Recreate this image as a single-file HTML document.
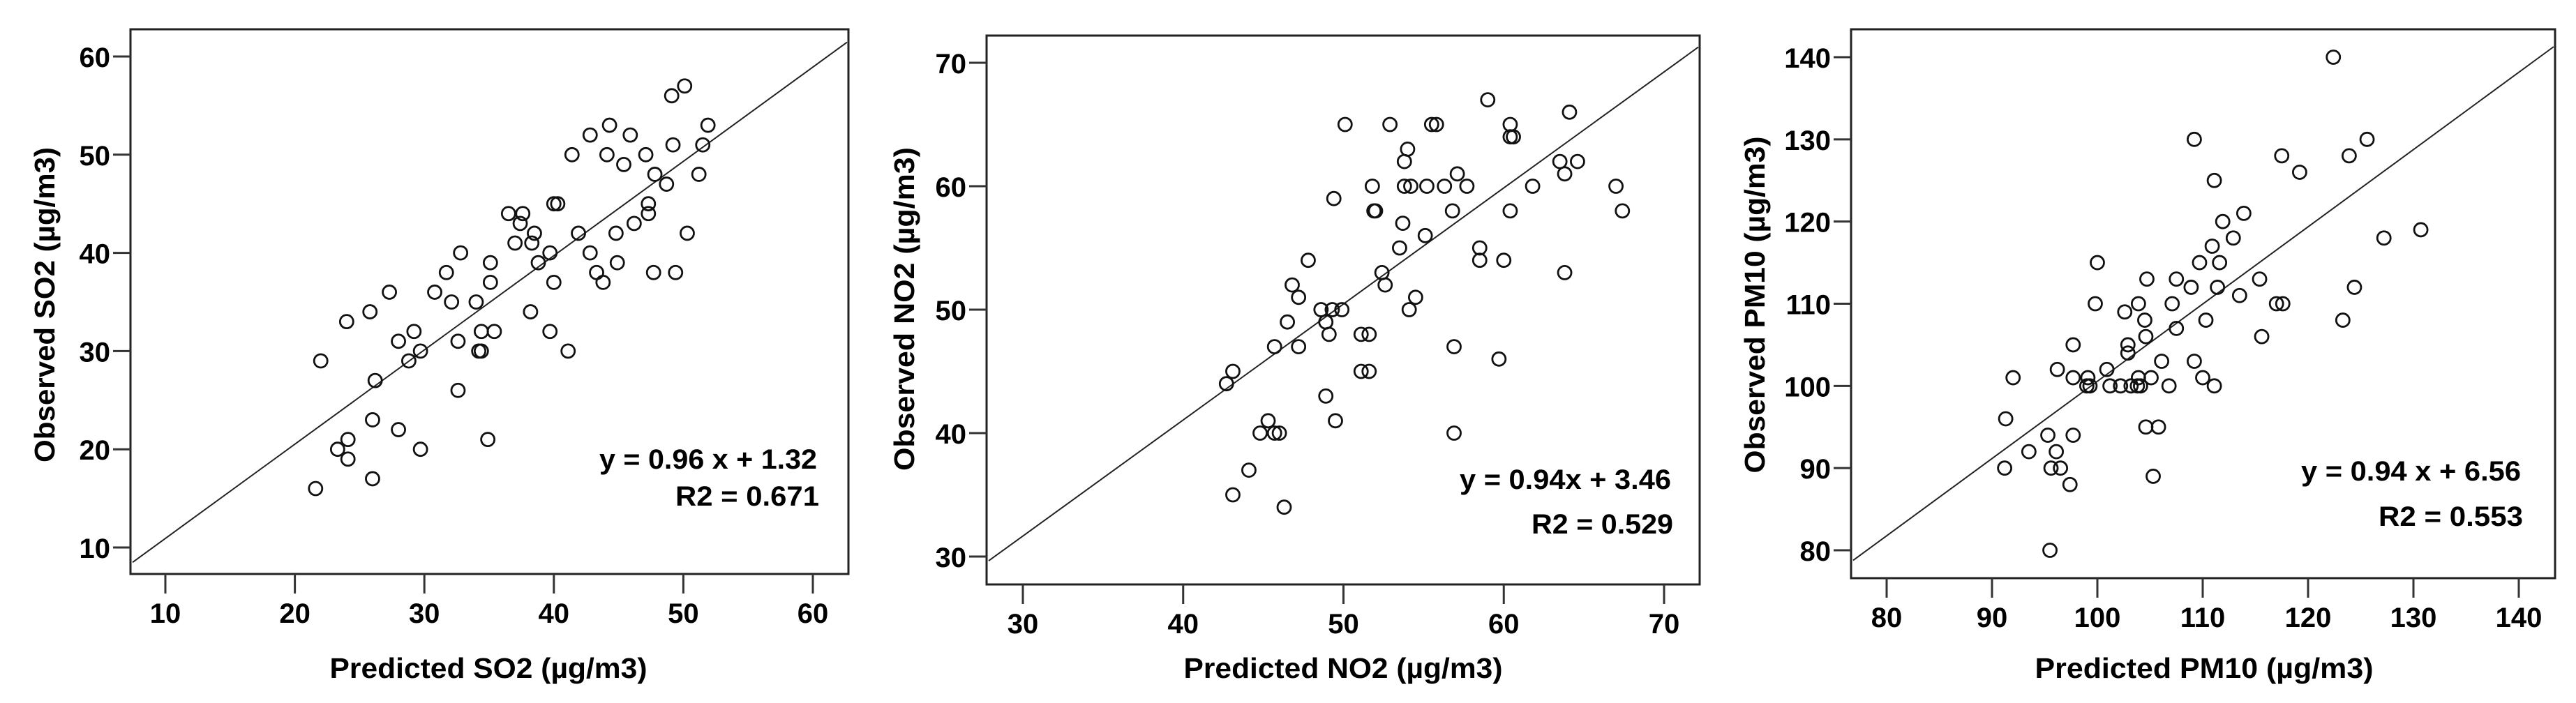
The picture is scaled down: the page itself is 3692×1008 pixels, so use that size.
<!DOCTYPE html>
<html><head><meta charset="utf-8"><style>
html,body{margin:0;padding:0;background:#fff;}
svg{display:block;font-family:"Liberation Sans",Arial,sans-serif;font-weight:bold;}
</style></head><body>
<svg id="chart" width="3692" height="1008" viewBox="0 0 3692 1008" xmlns="http://www.w3.org/2000/svg">
<rect width="3692" height="1008" fill="#fff"/>
</svg>
<script>
// ---- Panel data ----
const so2Pred = [21.6,22.0,23.3,24.0,24.1,24.1,25.8,26.0,26.0,26.2,27.3,28.0,28.0,28.8,29.2,29.7,29.7,30.8,31.7,32.1,32.6,32.6,32.8,34.0,34.2,34.4,34.4,34.9,35.1,35.1,35.4,36.5,37.0,37.4,37.6,38.3,38.5,38.2,38.8,39.7,40.0,39.7,40.0,40.3,41.1,41.4,41.9,42.8,42.8,43.3,43.8,44.1,44.3,44.8,44.9,45.4,45.9,46.2,47.1,47.3,47.3,47.7,47.8,48.7,49.1,49.2,49.4,50.1,50.3,51.2,51.5,51.9];
const so2Obs  = [16,29,20,33,21,19,34,23,17,27,36,31,22,29,32,30,20,36,38,35,31,26,40,35,30,30,32,21,37,39,32,44,41,43,44,41,42,34,39,40,37,32,45,45,30,50,42,52,40,38,37,50,53,42,39,49,52,43,50,45,44,38,48,47,56,51,38,57,42,48,51,53];
const no2Pred = [42.7,43.1,43.1,44.1,44.8,45.3,45.7,46.0,45.7,46.3,46.5,46.8,47.2,47.2,47.8,48.6,48.9,49.1,48.9,49.3,49.4,49.5,49.9,50.1,51.1,51.1,51.6,51.6,51.8,51.9,52.0,52.4,52.6,52.9,53.5,53.7,53.8,54.0,53.8,54.2,54.1,54.5,55.1,55.2,55.5,55.8,56.3,56.8,56.9,56.9,57.1,57.7,58.5,58.5,59.0,59.7,60.0,60.4,60.4,60.6,60.4,61.8,63.5,63.8,63.8,64.1,64.6,67.0,67.4];
const no2Obs  = [44,45,35,37,40,41,40,40,47,34,49,52,47,51,54,50,49,48,43,50,59,41,50,65,48,45,48,45,60,58,58,53,52,65,55,57,62,63,60,60,50,51,56,60,65,65,60,58,47,40,61,60,55,54,67,46,54,64,65,64,58,60,62,61,53,66,62,60,58];
const pmPred  = [91.2,91.3,92.0,93.5,95.3,95.5,95.6,96.1,96.2,96.5,97.4,97.7,97.7,97.7,99.1,99.0,99.3,99.8,100.0,100.9,101.2,102.2,102.6,102.9,102.9,103.2,103.8,103.9,103.9,104.1,104.5,104.6,104.6,104.7,105.1,105.3,105.8,106.1,106.8,107.1,107.5,107.5,108.9,109.2,109.2,109.7,110.0,110.3,110.9,111.1,111.1,111.4,111.6,111.9,112.9,113.5,113.9,115.4,115.6,117.0,117.6,117.5,119.2,122.4,123.3,123.9,124.4,125.6,127.2,130.7];
const pmObs   = [90,96,101,92,94,80,90,92,102,90,88,101,105,94,101,100,100,110,115,102,100,100,109,105,104,100,100,110,101,100,108,106,95,113,101,89,95,103,100,110,107,113,112,103,130,115,101,108,117,100,125,112,115,120,118,111,121,113,106,110,110,128,126,140,108,128,112,130,118,119];
const so2Ticks = [10,20,30,40,50,60];
const no2Ticks = [30,40,50,60,70];
const pmTicks  = [80,90,100,110,120,130,140];
const slopes = [0.96,0.94,0.94];
const intercepts = [1.32,3.46,6.56];
const eqLabels = ["y = 0.96 x + 1.32","y = 0.94x + 3.46","y = 0.94 x + 6.56"];
const r2Labels = ["R2 = 0.671","R2 = 0.529","R2 = 0.553"];
const xTitles = ["Predicted SO2 (µg/m3)","Predicted NO2 (µg/m3)","Predicted PM10 (µg/m3)"];
const yTitles = ["Observed SO2 (µg/m3)","Observed NO2 (µg/m3)","Observed PM10 (µg/m3)"];

const NS="http://www.w3.org/2000/svg";
const svg=document.getElementById('chart');
function mk(tag,attrs,parent){const e=document.createElementNS(NS,tag);for(const k in attrs)e.setAttribute(k,attrs[k]);(parent||svg).appendChild(e);return e;}

// layout (pixel geometry only)
const panels=[
 {key:'so2',px:so2Pred,py:so2Obs,ticks:so2Ticks,L:187,R:1216,T:42,B:823,
  xa:[10,237,60,1165],ya:[10,785,60,81],eqR:1171,eqY:672,r2Y:725,eqW:312,r2W:206,xtC:700,xtW:455,ytX:63,ytC:437,ytW:452},
 {key:'no2',px:no2Pred,py:no2Obs,ticks:no2Ticks,L:1414,R:2436,T:51,B:838,
  xa:[30,1466,70,2385],ya:[30,798,70,90],eqR:2395,eqY:701,r2Y:765,eqW:303,r2W:203,xtC:1925,xtW:457,ytX:1295,ytC:443,ytW:464},
 {key:'pm10',px:pmPred,py:pmObs,ticks:pmTicks,L:2653,R:3662,T:42,B:829,
  xa:[80,2704,140,3610],ya:[80,789,140,82],eqR:3613,eqY:689,r2Y:754,eqW:315,r2W:207,xtC:3159,xtW:485,ytX:2514,ytC:437,ytW:483}
];

panels.forEach((p,i)=>{
  const g=mk('g',{});
  
  
  const sx=v=>p.xa[1]+(v-p.xa[0])*(p.xa[3]-p.xa[1])/(p.xa[2]-p.xa[0]);
  const sy=v=>p.ya[1]+(v-p.ya[0])*(p.ya[3]-p.ya[1])/(p.ya[2]-p.ya[0]);
  const inv=x=>p.xa[0]+(x-p.xa[1])*(p.xa[2]-p.xa[0])/(p.xa[3]-p.xa[1]);
  // frame
  const fr=mk('rect',{x:p.L,y:p.T,width:p.R-p.L,height:p.B-p.T,fill:'none',stroke:'#222','stroke-width':3},g);
  
  
  // ticks
  p.ticks.forEach(t=>{
    const X=sx(t);
    const tl=mk('line',{x1:X,y1:p.B,x2:X,y2:p.B+28,stroke:'#333','stroke-width':3},g);
    
    
    const tx=mk('text',{x:X,y:p.B+70,'text-anchor':'middle','font-size':40,fill:'#000'},g);
    tx.textContent=t;
    
    
    const Y=sy(t);
    const yl=mk('line',{x1:p.L-25,y1:Y,x2:p.L,y2:Y,stroke:'#333','stroke-width':3},g);
    
    
    const ty=mk('text',{x:p.L-29,y:Y+15,'text-anchor':'end','font-size':40,fill:'#000'},g);
    ty.textContent=t;
    
    
  });
  // regression line
  const x0=inv(p.L+3), x1=inv(p.R-2);
  const ln=mk('line',{x1:sx(x0),y1:sy(slopes[i]*x0+intercepts[i]),x2:sx(x1),y2:sy(slopes[i]*x1+intercepts[i]),stroke:'#222','stroke-width':2},g);
  
  
  // points
  p.px.forEach((v,j)=>{
    const c=mk('circle',{cx:sx(v),cy:sy(p.py[j]),r:9.5,fill:'none',stroke:'#111','stroke-width':2.8},g);
    
    
  });
  // annotations
  const eq=mk('text',{x:p.eqR,y:p.eqY,'text-anchor':'end','font-size':40,textLength:p.eqW,lengthAdjust:'spacingAndGlyphs'},g);
  eq.textContent=eqLabels[i];
  
  
  const r2=mk('text',{x:p.eqR+3,y:p.r2Y,'text-anchor':'end','font-size':40,textLength:p.r2W,lengthAdjust:'spacingAndGlyphs'},g);
  r2.textContent=r2Labels[i];
  
  
  // axis titles
  const xt=mk('text',{x:p.xtC,y:972,'text-anchor':'middle','font-size':41,textLength:p.xtW,lengthAdjust:'spacingAndGlyphs'},g);
  xt.textContent=xTitles[i];
  
  
  const yt=mk('text',{x:0,y:0,'text-anchor':'middle','font-size':41,textLength:p.ytW,lengthAdjust:'spacingAndGlyphs',transform:`translate(${p.ytX+15},${p.ytC}) rotate(-90)`},g);
  yt.textContent=yTitles[i];
  
  
});
</script>
</body></html>
